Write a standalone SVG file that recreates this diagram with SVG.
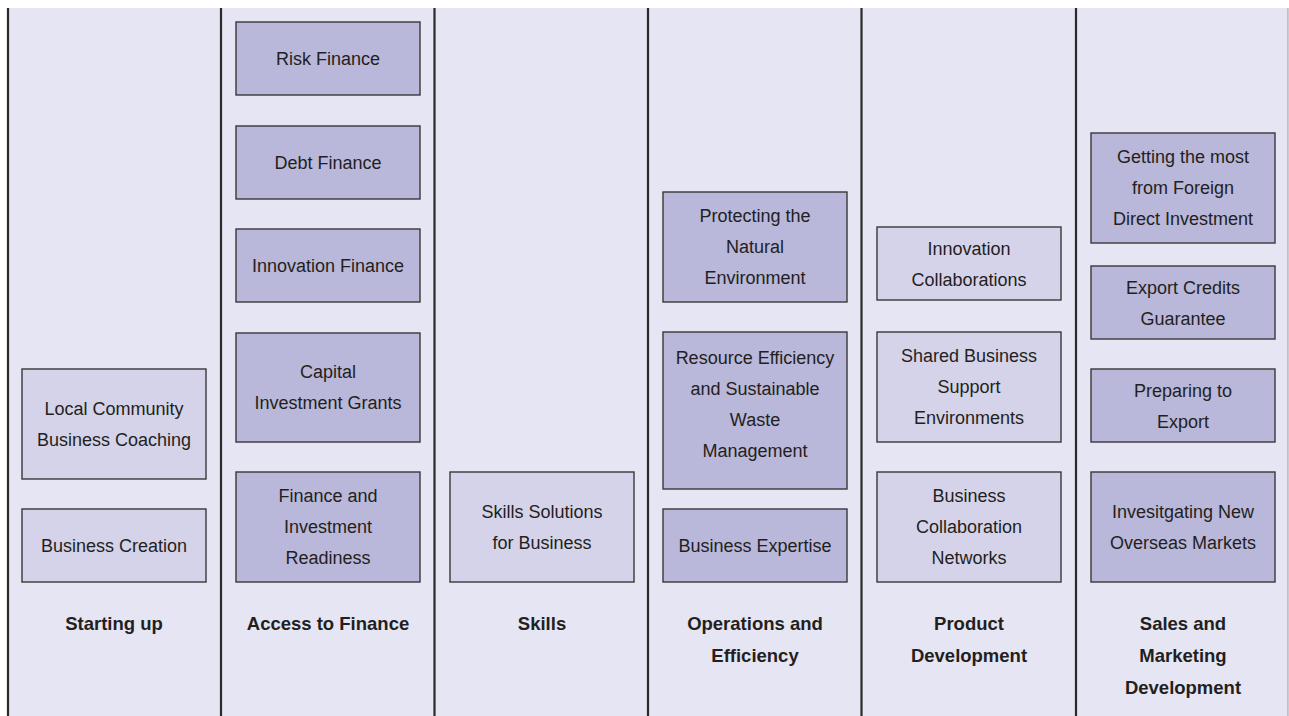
<svg xmlns="http://www.w3.org/2000/svg" width="1289" height="716" viewBox="0 0 1289 716">
  <style>
    .bg { fill: #e6e5f3; }
    .divider { stroke: #2b2829; stroke-width: 2.2; }
    .box { stroke: #3a3838; stroke-width: 1.4; }
    .light { fill: #d5d3e9; }
    .dark { fill: #b9b7da; }
    .t { font-family: "Liberation Sans", Arial, sans-serif; font-size: 18px; fill: #231f20; text-anchor: middle; }
    .h { font-family: "Liberation Sans", Arial, sans-serif; font-size: 18.5px; font-weight: bold; fill: #231f20; text-anchor: middle; }
  </style>

  <!-- panel background -->
  <rect x="0" y="0" width="1289" height="716" fill="#ffffff"/>
  <rect class="bg" x="8" y="8" width="1280" height="708"/>
  <line x1="1288" y1="8" x2="1288" y2="716" stroke="#9a98a8" stroke-width="1"/>

  <!-- column dividers -->
  <g id="dividers">
    <line class="divider" x1="8" y1="8" x2="8" y2="716"/>
    <line class="divider" x1="221" y1="8" x2="221" y2="716"/>
    <line class="divider" x1="434.5" y1="8" x2="434.5" y2="716"/>
    <line class="divider" x1="648" y1="8" x2="648" y2="716"/>
    <line class="divider" x1="861.5" y1="8" x2="861.5" y2="716"/>
    <line class="divider" x1="1076" y1="8" x2="1076" y2="716"/>
  </g>

  <g id="connectors"></g>

  <!-- Starting up -->
  <g id="local-community">
    <rect class="box light" x="22" y="369" width="184" height="110"/>
    <text class="t" x="114" y="414.5">Local Community</text>
    <text class="t" x="114" y="445.5">Business Coaching</text>
  </g>
  <g id="business-creation">
    <rect class="box light" x="22" y="509" width="184" height="73"/>
    <text class="t" x="114" y="552">Business Creation</text>
  </g>
  <g id="col-starting-up">
    <text class="h" x="114" y="630">Starting up</text>
  </g>

  <!-- Access to Finance -->
  <g id="risk-finance">
    <rect class="box dark" x="236" y="22" width="184" height="73"/>
    <text class="t" x="328" y="65">Risk Finance</text>
  </g>
  <g id="debt-finance">
    <rect class="box dark" x="236" y="126" width="184" height="73"/>
    <text class="t" x="328" y="169">Debt Finance</text>
  </g>
  <g id="innovation-finance">
    <rect class="box dark" x="236" y="229" width="184" height="73"/>
    <text class="t" x="328" y="272">Innovation Finance</text>
  </g>
  <g id="capital-investment-grants">
    <rect class="box dark" x="236" y="333" width="184" height="109"/>
    <text class="t" x="328" y="378">Capital</text>
    <text class="t" x="328" y="409">Investment Grants</text>
  </g>
  <g id="finance-investment-readiness">
    <rect class="box dark" x="236" y="472" width="184" height="110"/>
    <text class="t" x="328" y="502">Finance and</text>
    <text class="t" x="328" y="533">Investment</text>
    <text class="t" x="328" y="564">Readiness</text>
  </g>
  <g id="col-access-to-finance">
    <text class="h" x="328" y="630">Access to Finance</text>
  </g>

  <!-- Skills -->
  <g id="skills-solutions">
    <rect class="box light" x="450" y="472" width="184" height="110"/>
    <text class="t" x="542" y="517.5">Skills Solutions</text>
    <text class="t" x="542" y="548.5">for Business</text>
  </g>
  <g id="col-skills">
    <text class="h" x="542" y="630">Skills</text>
  </g>

  <!-- Operations and Efficiency -->
  <g id="protecting-environment">
    <rect class="box dark" x="663" y="192" width="184" height="110"/>
    <text class="t" x="755" y="222">Protecting the</text>
    <text class="t" x="755" y="253">Natural</text>
    <text class="t" x="755" y="284">Environment</text>
  </g>
  <g id="resource-efficiency">
    <rect class="box dark" x="663" y="332" width="184" height="157"/>
    <text class="t" x="755" y="363.5">Resource Efficiency</text>
    <text class="t" x="755" y="394.5">and Sustainable</text>
    <text class="t" x="755" y="425.5">Waste</text>
    <text class="t" x="755" y="456.5">Management</text>
  </g>
  <g id="business-expertise">
    <rect class="box dark" x="663" y="509" width="184" height="73"/>
    <text class="t" x="755" y="552">Business Expertise</text>
  </g>
  <g id="col-operations">
    <text class="h" x="755" y="630">Operations and</text>
    <text class="h" x="755" y="662">Efficiency</text>
  </g>

  <!-- Product Development -->
  <g id="innovation-collaborations">
    <rect class="box light" x="877" y="227" width="184" height="73"/>
    <text class="t" x="969" y="254.5">Innovation</text>
    <text class="t" x="969" y="285.5">Collaborations</text>
  </g>
  <g id="shared-business-support">
    <rect class="box light" x="877" y="332" width="184" height="110"/>
    <text class="t" x="969" y="362">Shared Business</text>
    <text class="t" x="969" y="393">Support</text>
    <text class="t" x="969" y="424">Environments</text>
  </g>
  <g id="business-collaboration-networks">
    <rect class="box light" x="877" y="472" width="184" height="110"/>
    <text class="t" x="969" y="502">Business</text>
    <text class="t" x="969" y="533">Collaboration</text>
    <text class="t" x="969" y="564">Networks</text>
  </g>
  <g id="col-product-development">
    <text class="h" x="969" y="630">Product</text>
    <text class="h" x="969" y="662">Development</text>
  </g>

  <!-- Sales and Marketing Development -->
  <g id="foreign-direct-investment">
    <rect class="box dark" x="1091" y="133" width="184" height="110"/>
    <text class="t" x="1183" y="163">Getting the most</text>
    <text class="t" x="1183" y="194">from Foreign</text>
    <text class="t" x="1183" y="225">Direct Investment</text>
  </g>
  <g id="export-credits">
    <rect class="box dark" x="1091" y="266" width="184" height="73"/>
    <text class="t" x="1183" y="293.5">Export Credits</text>
    <text class="t" x="1183" y="324.5">Guarantee</text>
  </g>
  <g id="preparing-to-export">
    <rect class="box dark" x="1091" y="369" width="184" height="73"/>
    <text class="t" x="1183" y="396.5">Preparing to</text>
    <text class="t" x="1183" y="427.5">Export</text>
  </g>
  <g id="overseas-markets">
    <rect class="box dark" x="1091" y="472" width="184" height="110"/>
    <text class="t" x="1183" y="517.5">Invesitgating New</text>
    <text class="t" x="1183" y="548.5">Overseas Markets</text>
  </g>
  <g id="col-sales-marketing">
    <text class="h" x="1183" y="630">Sales and</text>
    <text class="h" x="1183" y="662">Marketing</text>
    <text class="h" x="1183" y="694">Development</text>
  </g>
</svg>
